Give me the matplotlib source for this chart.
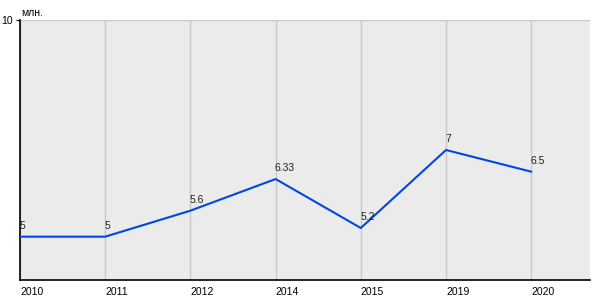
import matplotlib
matplotlib.use("Agg")
from matplotlib import pyplot as plt

plt.rcParams["font.family"] = ["Liberation Sans", "DejaVu Sans"]

years = ["2010", "2011", "2012", "2014", "2015", "2019", "2020"]
values = [5, 5, 5.6, 6.33, 5.2, 7, 6.5]
value_labels = ["5", "5", "5.6", "6.33", "5.2", "7", "6.5"]

fig = plt.figure(figsize=(6, 3), dpi=100)
ax = fig.add_axes([20 / 600, 20 / 300, 570 / 600, 260 / 300])
ax.set_facecolor("#ebebeb")

xs = list(range(len(years)))
ax.plot(xs, values, color="#0047e0", linewidth=1.5, zorder=3)

for x, v, lab in zip(xs, values, value_labels):
    ax.annotate(lab, (x, v), xytext=(-0.5, 4), textcoords="offset points",
                ha="left", va="bottom", fontsize=7.5, color="#222222", zorder=4)

ax.set_xlim(0, 6.69)
ax.set_ylim(4, 10)
ax.set_xticks(xs)
ax.set_xticklabels(years, ha="left", fontsize=7.5)
ax.set_yticks([10])
ax.set_yticklabels(["10"], fontsize=7.5)
ax.tick_params(axis="x", length=0, pad=5)
ax.tick_params(axis="y", length=3, pad=2)
ax.grid(True, color="#c8c8c8", linewidth=1)
for s in ["top", "right"]:
    ax.spines[s].set_visible(False)
for s in ["left", "bottom"]:
    ax.spines[s].set_color("black")
    ax.spines[s].set_linewidth(1.2)

fig.text(21 / 600, 1 - 13 / 300, "млн.", fontsize=7.5, ha="left", va="center")

fig.savefig("out.png", dpi=100)
